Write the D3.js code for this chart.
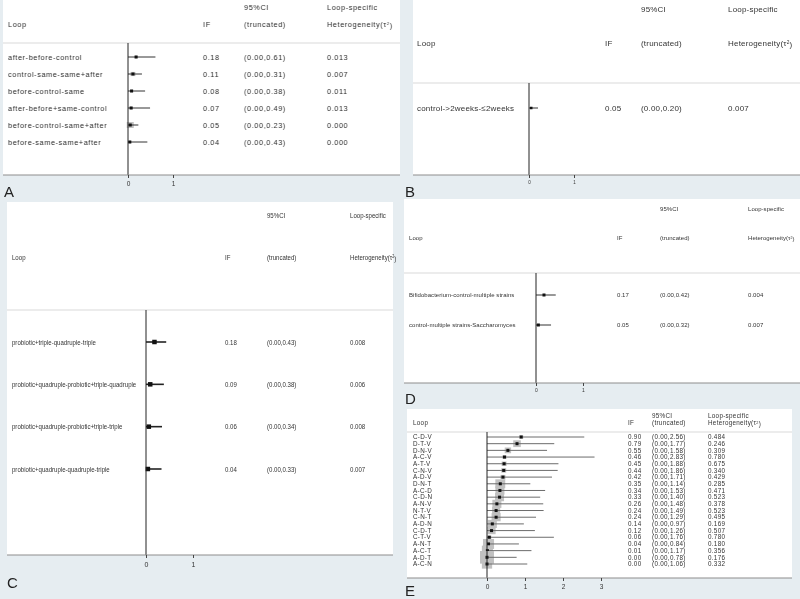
<!DOCTYPE html>
<html>
<head>
<meta charset="utf-8">
<script src="https://cdn.jsdelivr.net/npm/d3@7"></script>
<style>
	body { margin: 0; background: #e6edf1; }
	svg { display: block; filter: grayscale(1); }
	.cell { fill: #333; }
</style>
</head>
<body>
<div id="figure"></div>
<script>

// ---- Panel A ----
const loopsA = ["after-before-control", "control-same-same+after", "before-control-same",
	"after-before+same-control", "before-control-same+after", "before-same-same+after"];
const ifA = [0.18, 0.11, 0.08, 0.07, 0.05, 0.04];
const lowerA = [0, 0, 0, 0, 0, 0];
const upperA = [0.61, 0.31, 0.38, 0.49, 0.23, 0.43];
const tauA = [0.013, 0.007, 0.011, 0.013, 0.000, 0.000];
const weightA = [0.5, 1.5, 0.5, 0.5, 3, 0.5];

// ---- Panel B ----
const loopsB = ["control->2weeks-\u22642weeks"];
const ifB = [0.05];
const lowerB = [0];
const upperB = [0.20];
const tauB = [0.007];
const weightB = [0.5];

// ---- Panel C ----
const loopsC = ["probiotic+triple-quadruple-triple", "probiotic+quadruple-probiotic+triple-quadruple",
	"probiotic+quadruple-probiotic+triple-triple", "probiotic+quadruple-quadruple-triple"];
const ifC = [0.18, 0.09, 0.06, 0.04];
const lowerC = [0, 0, 0, 0];
const upperC = [0.43, 0.38, 0.34, 0.33];
const tauC = [0.008, 0.006, 0.008, 0.007];
const weightC = [1, 1, 1, 1];

// ---- Panel D ----
const loopsD = ["Bifidobacterium-control-multiple strains", "control-multiple strains-Saccharomyces"];
const ifD = [0.17, 0.05];
const lowerD = [0, 0];
const upperD = [0.42, 0.32];
const tauD = [0.004, 0.007];
const weightD = [1, 1];

// ---- Panel E ----
const loopsE = ["C-D-V", "D-T-V", "D-N-V", "A-C-V", "A-T-V", "C-N-V", "A-D-V", "D-N-T", "A-C-D", "C-D-N",
	"A-N-V", "N-T-V", "C-N-T", "A-D-N", "C-D-T", "C-T-V", "A-N-T", "A-C-T", "A-D-T", "A-C-N"];
const ifE = [0.90, 0.79, 0.55, 0.46, 0.45, 0.44, 0.42, 0.35, 0.34, 0.33,
	0.26, 0.24, 0.24, 0.14, 0.12, 0.06, 0.04, 0.01, 0.00, 0.00];
const lowerE = [0, 0, 0, 0, 0, 0, 0, 0, 0, 0, 0, 0, 0, 0, 0, 0, 0, 0, 0, 0];
const upperE = [2.56, 1.77, 1.58, 2.83, 1.88, 1.86, 1.71, 1.14, 1.53, 1.40,
	1.48, 1.49, 1.29, 0.97, 1.26, 1.76, 0.84, 1.17, 0.78, 1.06];
const tauE = [0.484, 0.246, 0.309, 0.780, 0.675, 0.340, 0.429, 0.285, 0.471, 0.523,
	0.378, 0.523, 0.495, 0.169, 0.507, 0.780, 0.180, 0.356, 0.176, 0.332];
const weightE = [1, 3.5, 2.5, 1, 1.5, 1.5, 1.5, 6, 5, 5, 5, 4, 5, 5, 4, 1, 7.5, 7.5, 12, 6.5];

const axisTicksA = [0, 1];
const axisTicksE = [0, 1, 2, 3];

function zipRows(loops, est, lo, hi, tau, w) {
	return loops.map((d, i) => ({loop: d, est: est[i], lo: lo[i], hi: hi[i], tau: tau[i], w: w[i]}));
}

const fmt2 = d3.format(".2f"), fmt3 = d3.format(".3f");

class ForestPanel {

	constructor(svg, data, config) {
		this.svg = svg;
		this.data = data;
		this.config = config;
		this.initVis();
	}

	initVis() {
		let vis = this;
		let c = vis.config;
		let s = c.squeeze || 1;

		vis.g = vis.svg.append("g").attr("class", "panel");

		// white plot area
		vis.g.append("rect")
			.attr("x", c.area[0]).attr("y", c.area[1])
			.attr("width", c.area[2] - c.area[0]).attr("height", c.area[3] - c.area[1])
			.attr("fill", "#fff");

		// header separator
		vis.g.append("line")
			.attr("x1", c.area[0]).attr("x2", c.area[2])
			.attr("y1", c.sepY).attr("y2", c.sepY)
			.attr("stroke", "#d6d9db").attr("stroke-width", 1);

		vis.x = d3.scaleLinear()
			.domain([0, 1])
			.range([c.zeroX, c.zeroX + c.unit]);

		vis.y = d3.scalePoint()
			.domain(vis.data.map(d => d.loop))
			.range(c.rowRange);

		vis.box = d3.scaleSqrt()
			.domain([0, d3.max(vis.data, d => d.w)])
			.range([0, c.boxMax]);

		// text layer, optionally squeezed horizontally (narrow font look)
		vis.tg = vis.g.append("g").attr("transform", "scale(" + s + ",1)");

		let txt = (sel) => sel
			.attr("class", "cell")
			.attr("dy", "0.35em")
			.style("font-family", c.font)
			.style("font-size", c.fontSize + "px")
			.style("letter-spacing", c.spacing + "px");

		// header
		vis.tg.append("text").call(txt).attr("x", c.cols.ci / s).attr("y", c.head1).text("95%CI");
		vis.tg.append("text").call(txt).attr("x", c.cols.tau / s).attr("y", c.head1).text("Loop-specific");
		vis.tg.append("text").call(txt).attr("x", c.cols.loop / s).attr("y", c.head2).text("Loop");
		vis.tg.append("text").call(txt).attr("x", c.cols.est / s).attr("y", c.head2).text("IF");
		vis.tg.append("text").call(txt).attr("x", c.cols.ci / s).attr("y", c.head2).text("(truncated)");
		let het = vis.tg.append("text").call(txt).attr("x", c.cols.tau / s).attr("y", c.head2);
		het.append("tspan").text("Heterogeneity(\u03c4");
		het.append("tspan").attr("dy", "-0.4em").style("font-size", (c.fontSize * 0.6) + "px").text("2");
		het.append("tspan").attr("dy", "0.4em").text(")");

		// table columns
		let cells = vis.tg.selectAll("g.cells")
			.data(vis.data)
			.enter()
			.append("g")
			.attr("class", "cells");

		cells.append("text").call(txt).attr("x", c.cols.loop / s).attr("y", d => vis.y(d.loop)).text(d => d.loop);
		cells.append("text").call(txt).attr("x", c.cols.est / s).attr("y", d => vis.y(d.loop)).text(d => fmt2(d.est));
		cells.append("text").call(txt).attr("x", c.cols.ci / s).attr("y", d => vis.y(d.loop))
			.text(d => "(" + fmt2(d.lo) + "," + fmt2(d.hi) + ")");
		cells.append("text").call(txt).attr("x", c.cols.tau / s).attr("y", d => vis.y(d.loop)).text(d => fmt3(d.tau));

		let rows = vis.g.selectAll("g.row")
			.data(vis.data)
			.enter()
			.append("g")
			.attr("class", "row");

		// weight boxes
		rows.append("rect")
			.attr("x", d => vis.x(d.est) - vis.box(d.w) / 2)
			.attr("y", d => vis.y(d.loop) - vis.box(d.w) * c.boxAspect / 2)
			.attr("width", d => vis.box(d.w))
			.attr("height", d => vis.box(d.w) * c.boxAspect)
			.attr("fill", "#bfc1c2");

		// CI lines
		rows.append("line")
			.attr("x1", d => vis.x(d.lo))
			.attr("x2", d => vis.x(d.hi))
			.attr("y1", d => vis.y(d.loop))
			.attr("y2", d => vis.y(d.loop))
			.attr("stroke", c.lineColor)
			.attr("stroke-width", c.lineWidth);

		// point estimates
		rows.append("rect")
			.attr("x", d => vis.x(d.est) - c.marker / 2)
			.attr("y", d => vis.y(d.loop) - c.marker / 2)
			.attr("width", c.marker)
			.attr("height", c.marker)
			.attr("fill", "#111");

		// zero line
		vis.g.append("line")
			.attr("x1", vis.x(0)).attr("x2", vis.x(0))
			.attr("y1", c.sepY).attr("y2", c.axisY)
			.attr("stroke", "#222").attr("stroke-width", 1);

		// bottom axis
		vis.g.append("line")
			.attr("x1", c.area[0]).attr("x2", c.area[2])
			.attr("y1", c.axisY).attr("y2", c.axisY)
			.attr("stroke", "#8a8d90").attr("stroke-width", 1.2);

		vis.xAxis = d3.axisBottom(vis.x)
			.tickValues(c.ticks)
			.tickFormat(d3.format("d"))
			.tickSize(3)
			.tickPadding(c.tickPad);

		vis.xAxisGroup = vis.g.append("g")
			.attr("class", "x-axis axis")
			.attr("transform", "translate(0," + c.axisY + ")")
			.call(vis.xAxis);
		vis.xAxisGroup.select(".domain").remove();
		vis.xAxisGroup.selectAll("line").attr("stroke", "#444");
		vis.xAxisGroup.selectAll("text")
			.attr("fill", "#333")
			.style("font-family", c.font)
			.style("font-size", c.tickSize + "px");

		// panel letter
		vis.g.append("text")
			.attr("x", c.labelPos[0]).attr("y", c.labelPos[1])
			.attr("fill", "#222")
			.style("font-family", "Liberation Sans, Arial, sans-serif")
			.style("font-size", "15px")
			.text(c.label);
	}
}

const svg = d3.select("#figure").append("svg")
	.attr("width", 800)
	.attr("height", 599);

const sans = "Liberation Sans, Arial, sans-serif";

new ForestPanel(svg, zipRows(loopsA, ifA, lowerA, upperA, tauA, weightA), {
	label: "A", labelPos: [4, 197], area: [3, 0, 400, 175],
	head1: 7, head2: 24, sepY: 43, axisY: 175, rowRange: [57, 142],
	zeroX: 128, unit: 45, ticks: axisTicksA, tickPad: 3, tickSize: 6.5,
	cols: {loop: 8, est: 203, ci: 244, tau: 327},
	font: sans, fontSize: 7.3, spacing: 0.6, marker: 3, boxMax: 7, boxAspect: 0.85,
	lineColor: "#333", lineWidth: 1
});

new ForestPanel(svg, zipRows(loopsB, ifB, lowerB, upperB, tauB, weightB), {
	label: "B", labelPos: [405, 197], area: [413, 0, 800, 175],
	head1: 9, head2: 43, sepY: 83, axisY: 175, rowRange: [108, 108],
	zeroX: 529, unit: 45, ticks: axisTicksA, tickPad: 3, tickSize: 4.5,
	cols: {loop: 417, est: 605, ci: 641, tau: 728},
	font: sans, fontSize: 8, spacing: 0.2, marker: 2.5, boxMax: 0, boxAspect: 1,
	lineColor: "#333", lineWidth: 1
});

new ForestPanel(svg, zipRows(loopsC, ifC, lowerC, upperC, tauC, weightC), {
	label: "C", labelPos: [7, 588], area: [7, 202, 393, 555],
	head1: 215, head2: 257, sepY: 310, axisY: 555, rowRange: [342, 469],
	zeroX: 146, unit: 47, ticks: axisTicksA, tickPad: 4, tickSize: 7,
	cols: {loop: 12, est: 225, ci: 267, tau: 350},
	font: sans, fontSize: 7.6, spacing: 0, squeeze: 0.8, marker: 4.5, boxMax: 0, boxAspect: 1,
	lineColor: "#222", lineWidth: 1.6
});

new ForestPanel(svg, zipRows(loopsD, ifD, lowerD, upperD, tauD, weightD), {
	label: "D", labelPos: [405, 404], area: [404, 199, 800, 383],
	head1: 209, head2: 238, sepY: 273, axisY: 383, rowRange: [295, 325],
	zeroX: 536, unit: 47, ticks: axisTicksA, tickPad: 2, tickSize: 5,
	cols: {loop: 409, est: 617, ci: 660, tau: 748},
	font: sans, fontSize: 6, spacing: 0.05, marker: 3, boxMax: 0, boxAspect: 1,
	lineColor: "#333", lineWidth: 1
});

new ForestPanel(svg, zipRows(loopsE, ifE, lowerE, upperE, tauE, weightE), {
	label: "E", labelPos: [405, 596], area: [407, 409, 792, 578],
	head1: 416, head2: 423, sepY: 432, axisY: 578, rowRange: [437, 564],
	zeroX: 487, unit: 38, ticks: axisTicksE, tickPad: 3, tickSize: 6.5,
	cols: {loop: 413, est: 628, ci: 652, tau: 708},
	font: sans, fontSize: 6.3, spacing: 0.3, marker: 3, boxMax: 14, boxAspect: 0.9,
	lineColor: "#6a6c6e", lineWidth: 1
});

</script>
</body>
</html>
